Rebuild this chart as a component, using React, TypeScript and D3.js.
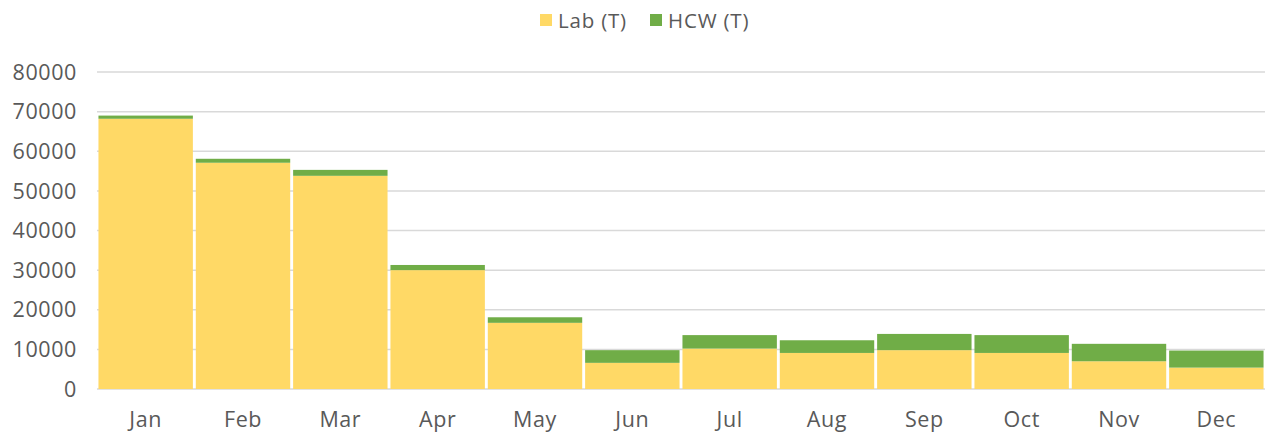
import React from "react";
import * as d3 from "d3";

const months = ["Jan", "Feb", "Mar", "Apr", "May", "Jun", "Jul", "Aug", "Sep", "Oct", "Nov", "Dec"];
const labValues = [68200, 57100, 53800, 30000, 16700, 6600, 10200, 9100, 9800, 9100, 7000, 5400];
const hcwValues = [800, 1000, 1500, 1300, 1400, 3200, 3400, 3200, 4100, 4500, 4400, 4300];
const yTicks = [0, 10000, 20000, 30000, 40000, 50000, 60000, 70000, 80000];
const seriesNames = ["Lab (T)", "HCW (T)"];
const seriesColors = ["#FFD966", "#70AD47"];

const W = 1265;
const H = 433;
const FONT = "'Open Sans', Lato, sans-serif";

export default function App() {
  const x = d3.scaleBand<string>().domain(months).range([97, 1265]).paddingInner(0.03).paddingOuter(0.015);
  const y = d3.scaleLinear().domain([0, 80000]).range([389, 72]);

  const rows = months.map((m, i) => ({ month: m, lab: labValues[i], hcw: hcwValues[i] }));
  const stacked = d3.stack<any>().keys(["lab", "hcw"])(rows);

  return (
    <svg width={W} height={H} style={{ position: "absolute", left: 0, top: 0, background: "#fff" }}>
      {yTicks.map((t) => (
        <g key={t}>
          <line x1={97} x2={1265} y1={y(t)} y2={y(t)} stroke="#D9D9D9" strokeWidth={1.5} />
          <text x={77} y={y(t)} dy="0.36em" textAnchor="end" fontSize={21.5} letterSpacing={0.6} fontFamily={FONT} fill="#595959">
            {t}
          </text>
        </g>
      ))}
      {stacked.map((s, si) =>
        s.map((d, i) => (
          <rect
            key={`${si}-${i}`}
            x={x(months[i])}
            width={x.bandwidth()}
            y={y(d[1])}
            height={y(d[0]) - y(d[1])}
            fill={seriesColors[si]}
          />
        ))
      )}
      {months.map((m) => (
        <text
          key={m}
          x={(x(m) as number) + x.bandwidth() / 2}
          y={427}
          textAnchor="middle"
          fontSize={21.5}
          letterSpacing={0.6}
          fontFamily={FONT}
          fill="#595959"
        >
          {m}
        </text>
      ))}
      <g>
        <rect x={540} y={14} width={12} height={12} fill={seriesColors[0]} />
        <text x={558} y={28} fontSize={20.5} letterSpacing={0.8} fontFamily={FONT} fill="#595959">{seriesNames[0]}</text>
        <rect x={650} y={14} width={12} height={12} fill={seriesColors[1]} />
        <text x={668} y={28} fontSize={20.5} letterSpacing={0.8} fontFamily={FONT} fill="#595959">{seriesNames[1]}</text>
      </g>
    </svg>
  );
}
